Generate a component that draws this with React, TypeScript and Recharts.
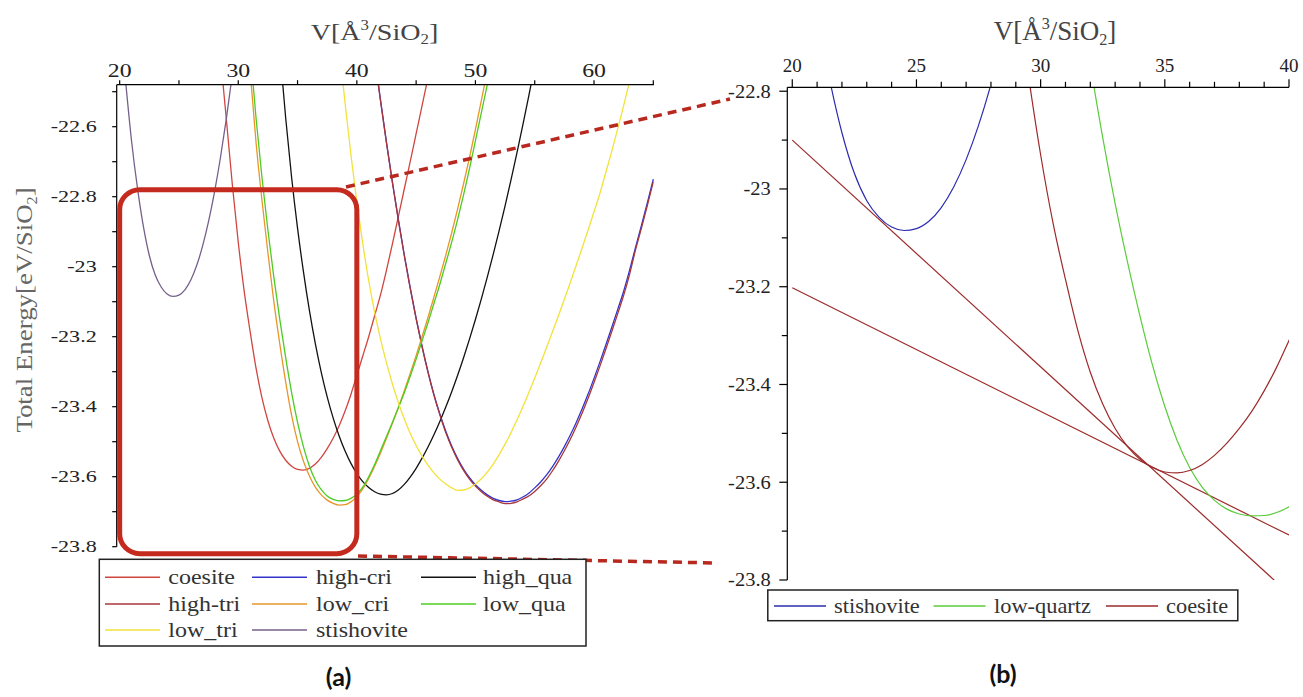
import React from 'react';
import { LineChart, Line, XAxis, YAxis, ReferenceArea } from 'recharts';

// ---------------- Panel (a) data: V [Å^3/SiO2] vs total energy [eV/SiO2] ----------------
const stishoviteV = [20.5, 21, 21.5, 22, 22.5, 23, 23.5, 24, 24.5, 25, 25.5, 26, 26.5, 27, 27.5, 28, 28.5, 29, 29.5];
const stishoviteE = [-22.47, -22.64, -22.775, -22.885, -22.968, -23.024, -23.058, -23.078, -23.085, -23.081, -23.066, -23.038, -22.996, -22.94, -22.87, -22.786, -22.688, -22.576, -22.45];

const coesiteV = [28.5, 29, 29.5, 30, 30.5, 31, 31.5, 32, 32.5, 33, 33.5, 34, 34.5, 35, 35.5, 36, 36.5, 37, 37.5, 38, 38.5, 39, 39.5, 40, 40.5, 41, 41.5, 42, 42.5, 43, 43.5, 44, 44.5, 45, 45.5, 46, 46.5];
const coesiteE = [-22.40, -22.58, -22.765, -22.93, -23.07, -23.185, -23.29, -23.375, -23.44, -23.49, -23.527, -23.553, -23.57, -23.579, -23.581, -23.576, -23.564, -23.545, -23.52, -23.49, -23.455, -23.413, -23.365, -23.31, -23.255, -23.2, -23.14, -23.08, -23.01, -22.935, -22.857, -22.778, -22.70, -22.62, -22.54, -22.46, -22.38];

const lowQuaV = [31, 31.5, 32, 32.5, 33, 33.5, 34, 34.5, 35, 35.5, 36, 36.5, 37, 37.5, 38, 38.5, 39, 39.5, 40, 40.5, 41, 41.5, 42, 42.5, 43, 43.5, 44, 44.5, 45, 45.5, 46, 46.5, 47, 47.5, 48, 48.5, 49, 49.5, 50, 50.5, 51, 51.5];
const lowQuaE = [-22.38, -22.575, -22.745, -22.895, -23.03, -23.15, -23.26, -23.36, -23.445, -23.515, -23.57, -23.61, -23.637, -23.655, -23.665, -23.669, -23.668, -23.662, -23.65, -23.63, -23.60, -23.565, -23.525, -23.485, -23.445, -23.403, -23.36, -23.313, -23.264, -23.212, -23.16, -23.105, -23.05, -22.99, -22.93, -22.865, -22.795, -22.72, -22.64, -22.56, -22.48, -22.40];

const lowCriV = [31, 31.5, 32, 32.5, 33, 33.5, 34, 34.5, 35, 35.5, 36, 36.5, 37, 37.5, 38, 38.5, 39, 39.5, 40, 40.5, 41, 41.5, 42, 42.5, 43, 43.5, 44, 44.5, 45, 45.5, 46, 46.5, 47, 47.5, 48, 48.5, 49, 49.5, 50, 50.5, 51];
const lowCriE = [-22.44, -22.645, -22.81, -22.96, -23.10, -23.22, -23.33, -23.425, -23.5, -23.556, -23.598, -23.63, -23.652, -23.667, -23.676, -23.681, -23.68, -23.672, -23.657, -23.635, -23.605, -23.57, -23.532, -23.49, -23.447, -23.402, -23.355, -23.305, -23.254, -23.20, -23.145, -23.087, -23.028, -22.967, -22.903, -22.835, -22.763, -22.688, -22.608, -22.525, -22.44];

const highQuaV = [33.5, 34, 34.5, 35, 35.5, 36, 36.5, 37, 37.5, 38, 38.5, 39, 39.5, 40, 40.5, 41, 41.5, 42, 42.5, 43, 43.5, 44, 44.5, 45, 45.5, 46, 46.5, 47, 47.5, 48, 48.5, 49, 49.5, 50, 50.5, 51, 51.5, 52, 52.5, 53, 53.5, 54, 54.5, 55];
const highQuaE = [-22.38, -22.575, -22.745, -22.89, -23.015, -23.125, -23.22, -23.302, -23.372, -23.432, -23.483, -23.526, -23.562, -23.591, -23.614, -23.631, -23.643, -23.65, -23.652, -23.648, -23.638, -23.622, -23.601, -23.576, -23.547, -23.515, -23.48, -23.442, -23.401, -23.357, -23.31, -23.26, -23.207, -23.151, -23.092, -23.03, -22.965, -22.897, -22.826, -22.752, -22.675, -22.595, -22.512, -22.426];

const lowTriV = [38.5, 39, 39.5, 40, 40.5, 41, 41.5, 42, 42.5, 43, 43.5, 44, 44.5, 45, 45.5, 46, 46.5, 47, 47.5, 48, 48.5, 49, 49.5, 50, 50.5, 51, 51.5, 52, 52.5, 53, 53.5, 54, 54.5, 55, 55.5, 56, 56.5, 57, 57.5, 58, 58.5, 59, 59.5, 60, 60.5, 61, 61.5, 62, 62.5, 63, 63.5];
const lowTriE = [-22.37, -22.53, -22.68, -22.815, -22.935, -23.04, -23.13, -23.207, -23.275, -23.335, -23.388, -23.435, -23.476, -23.511, -23.541, -23.567, -23.589, -23.607, -23.621, -23.632, -23.639, -23.638, -23.632, -23.621, -23.606, -23.587, -23.564, -23.537, -23.507, -23.474, -23.438, -23.40, -23.36, -23.318, -23.275, -23.231, -23.186, -23.14, -23.093, -23.045, -22.996, -22.946, -22.895, -22.843, -22.79, -22.73, -22.67, -22.605, -22.54, -22.47, -22.40];

const highCriV = [41.5, 42, 42.5, 43, 43.5, 44, 44.5, 45, 45.5, 46, 46.5, 47, 47.5, 48, 48.5, 49, 49.5, 50, 50.5, 51, 51.5, 52, 52.5, 53, 53.5, 54, 54.5, 55, 55.5, 56, 56.5, 57, 57.5, 58, 58.5, 59, 59.5, 60, 60.5, 61, 61.5, 62, 62.5, 63, 63.5, 64, 64.5, 65];
const highCriE = [-22.40, -22.525, -22.645, -22.758, -22.865, -22.966, -23.06, -23.147, -23.227, -23.30, -23.365, -23.421, -23.47, -23.512, -23.548, -23.578, -23.603, -23.623, -23.639, -23.652, -23.662, -23.668, -23.671, -23.67, -23.666, -23.658, -23.647, -23.632, -23.615, -23.595, -23.571, -23.544, -23.514, -23.481, -23.445, -23.406, -23.364, -23.319, -23.272, -23.223, -23.173, -23.122, -23.07, -23.01, -22.945, -22.882, -22.817, -22.75];

const highTriV = [41.5, 42, 42.5, 43, 43.5, 44, 44.5, 45, 45.5, 46, 46.5, 47, 47.5, 48, 48.5, 49, 49.5, 50, 50.5, 51, 51.5, 52, 52.5, 53, 53.5, 54, 54.5, 55, 55.5, 56, 56.5, 57, 57.5, 58, 58.5, 59, 59.5, 60, 60.5, 61, 61.5, 62, 62.5, 63, 63.5, 64, 64.5, 65];
const highTriE = [-22.402, -22.527, -22.647, -22.76, -22.867, -22.968, -23.062, -23.149, -23.229, -23.302, -23.367, -23.423, -23.474, -23.516, -23.552, -23.582, -23.607, -23.627, -23.643, -23.656, -23.666, -23.672, -23.677, -23.676, -23.672, -23.664, -23.655, -23.642, -23.626, -23.607, -23.583, -23.556, -23.526, -23.493, -23.457, -23.418, -23.376, -23.331, -23.284, -23.235, -23.185, -23.134, -23.082, -23.022, -22.952, -22.89, -22.825, -22.757];

// ---------------- Panel (b): common tangent lines ----------------
const tangentAV = [20, 40];
const tangentAE = [-22.90, -23.828];
const tangentBV = [20, 40];
const tangentBE = [-23.202, -23.708];

// ---------------- Ticks ----------------
const xTicksA = [20, 25, 30, 35, 40, 45, 50, 55, 60, 65];
const xMajorA = [20, 30, 40, 50, 60];
const yTicksA = [-23.8, -23.7, -23.6, -23.5, -23.4, -23.3, -23.2, -23.1, -23, -22.9, -22.8, -22.7, -22.6, -22.5];
const yMajorA = [-23.8, -23.6, -23.4, -23.2, -23, -22.8, -22.6];
const xTicksB = [20, 21, 22, 23, 24, 25, 26, 27, 28, 29, 30, 31, 32, 33, 34, 35, 36, 37, 38, 39, 40];
const xMajorB = [20, 25, 30, 35, 40];
const yTicksB = [-23.8, -23.7, -23.6, -23.5, -23.4, -23.3, -23.2, -23.1, -23, -22.9, -22.8];
const yMajorB = [-23.8, -23.6, -23.4, -23.2, -23, -22.8];

const zip = (vs: number[], es: number[]) => vs.map((v, i) => ({ v, e: es[i] }));

const namesA = ['coesite', 'high-cri', 'high_qua', 'high-tri', 'low_cri', 'low_qua', 'low_tri', 'stishovite'];
const colorsA = ['#d0453f', '#3434cc', '#111111', '#a8363a', '#e8952a', '#4ccc22', '#f2e23a', '#76608a'];
const dataA = [
  zip(coesiteV, coesiteE),
  zip(highCriV, highCriE),
  zip(highQuaV, highQuaE),
  zip(highTriV, highTriE),
  zip(lowCriV, lowCriE),
  zip(lowQuaV, lowQuaE),
  zip(lowTriV, lowTriE),
  zip(stishoviteV, stishoviteE),
];

const namesB = ['stishovite', 'low-quartz', 'coesite'];
const colorsB = ['#2c2cb0', '#5acc3a', '#9c2a2a'];
const dataB = [zip(stishoviteV, stishoviteE), zip(lowQuaV, lowQuaE), zip(coesiteV, coesiteE)];
const tangentData = [zip(tangentAV, tangentAE), zip(tangentBV, tangentBE)];

const serifName = 'Liberation Serif';
const serif = '"Liberation Serif", "Times New Roman", Times, serif';
const axisStroke = { stroke: '#000', strokeWidth: 1.2 };

type TickOpt = { len: number; minorLen: number; gap: number; size: number; sx: number; fill: string };

function makeTick(orient: 'top' | 'left', majors: number[], o: TickOpt) {
  return (props: any) => {
    const { x, y, payload } = props;
    const v = Number(payload.value);
    const major = majors.some((m) => Math.abs(m - v) < 1e-6);
    const L = major ? o.len : o.minorLen;
    const label = String(Math.round(v * 10) / 10);
    const tx = orient === 'top' ? x : x - o.gap;
    const ty = orient === 'top' ? y - o.gap : y + o.size * 0.34;
    return (
      <g>
        {orient === 'top' ? (
          <line x1={x} x2={x} y1={y} y2={y - L} stroke="#000" strokeWidth={1.2} />
        ) : (
          <line x1={x} x2={x - L} y1={y} y2={y} stroke="#000" strokeWidth={1.2} />
        )}
        {major && (
          <g transform={`translate(${tx},${ty}) scale(${o.sx},1)`}>
            <text
              x={0}
              y={0}
              textAnchor={orient === 'top' ? 'middle' : 'end'}
              fontFamily={serifName}
              fontSize={o.size}
              fill={o.fill}
              style={{ fontFamily: serif }}
            >
              {label}
            </text>
          </g>
        )}
      </g>
    );
  };
}

const tickAx = makeTick('top', xMajorA, { len: 4.5, minorLen: 4.5, gap: 8, size: 19, sx: 1.25, fill: '#222' });
const tickAy = makeTick('left', yMajorA, { len: 4.5, minorLen: 4.5, gap: 20, size: 17, sx: 1.3, fill: '#222' });
const tickBx = makeTick('top', xMajorB, { len: 8, minorLen: 5.5, gap: 15.5, size: 19, sx: 1.0, fill: '#222' });
const tickBy = makeTick('left', yMajorB, { len: 8, minorLen: 5.5, gap: 16.5, size: 19, sx: 1.08, fill: '#222' });

const renderBox = (p: any) => (
  <rect x={p.x} y={p.y} width={p.width} height={p.height} rx={20} ry={20} fill="none" stroke="#c42a1e" strokeWidth={5} />
);

function VolTitle({ x, y, size, sx }: { x: number; y: number; size: number; sx: number }) {
  return (
    <text transform={`translate(${x},${y}) scale(${sx},1)`} textAnchor="middle" style={{ fontFamily: serif, fontSize: size, fill: '#444' }}>
      V[Å
      <tspan fontSize={size * 0.6} dy={-size * 0.4}>3</tspan>
      <tspan dy={size * 0.4}>/SiO</tspan>
      <tspan fontSize={size * 0.6} dy={size * 0.2}>2</tspan>
      <tspan dy={-size * 0.2}>]</tspan>
    </text>
  );
}

export default function App() {
  const legendRowsA = [577.3, 604, 630];
  const legendColLineA = [105, 252, 421];
  const legendColTextA = [168.3, 316, 483];
  const legendLineB = [774, 933.5, 1106];
  const legendTextB = [834, 994, 1166];
  const capFont = "Lato, 'Open Sans', 'DejaVu Sans', sans-serif";

  return (
    <div style={{ position: 'absolute', left: 0, top: 0, width: 1303, height: 697, background: '#fff', overflow: 'hidden' }}>
      <div style={{ position: 'absolute', left: 0, top: 0 }}>
        <LineChart width={700} height={697} margin={{ top: 54.7, left: 56.7, right: 46.1, bottom: 150.3 }}>
          <XAxis
            type="number"
            dataKey="v"
            orientation="top"
            domain={[19.75, 65.05]}
            ticks={xTicksA}
            allowDataOverflow
            height={30}
            axisLine={axisStroke}
            tickLine={false}
            tickSize={0}
            tickMargin={0}
            interval={0}
            tick={tickAx}
          />
          <YAxis
            type="number"
            domain={[-23.8, -22.48]}
            ticks={yTicksA}
            allowDataOverflow
            width={60}
            axisLine={axisStroke}
            tickLine={false}
            tickSize={0}
            tickMargin={0}
            interval={0}
            tick={tickAy}
          />
          {namesA.map((n, i) => (
            <Line
              key={n}
              data={dataA[i]}
              dataKey="e"
              name={n}
              stroke={colorsA[i]}
              strokeWidth={1.3}
              dot={false}
              type="monotone"
              isAnimationActive={false}
            />
          ))}
          <ReferenceArea x1={20} x2={40} y1={-23.82} y2={-22.78} ifOverflow="visible" shape={renderBox} zIndex={2000} />
        </LineChart>
      </div>

      <div style={{ position: 'absolute', left: 700, top: 0 }}>
        <LineChart width={603} height={697} margin={{ top: 57.3, left: 27.3, right: 14, bottom: 117 }}>
          <XAxis
            type="number"
            dataKey="v"
            orientation="top"
            domain={[19.8, 40]}
            ticks={xTicksB}
            allowDataOverflow
            height={30}
            axisLine={axisStroke}
            tickLine={false}
            tickSize={0}
            tickMargin={0}
            interval={0}
            tick={tickBx}
          />
          <YAxis
            type="number"
            domain={[-23.8, -22.792]}
            ticks={yTicksB}
            allowDataOverflow
            width={60}
            axisLine={axisStroke}
            tickLine={false}
            tickSize={0}
            tickMargin={0}
            interval={0}
            tick={tickBy}
          />
          {tangentData.map((d, i) => (
            <Line key={'t' + i} data={d} dataKey="e" stroke={colorsB[2]} strokeWidth={1.2} dot={false} type="linear" isAnimationActive={false} />
          ))}
          {namesB.map((n, i) => (
            <Line
              key={n}
              data={dataB[i]}
              dataKey="e"
              name={n}
              stroke={colorsB[i]}
              strokeWidth={1.2}
              dot={false}
              type="monotone"
              isAnimationActive={false}
            />
          ))}
        </LineChart>
      </div>

      <svg style={{ position: 'absolute', left: 0, top: 0, pointerEvents: 'none' }} width={1303} height={697}>
        <VolTitle x={374.5} y={39.5} size={24} sx={1.17} />
        <VolTitle x={1055} y={39.5} size={27} sx={1.0} />
        <text transform="translate(32,310) rotate(-90) scale(1.12,1)" textAnchor="middle" style={{ fontFamily: serif, fontSize: 24, fill: '#666' }}>
          Total Energy[eV/SiO
          <tspan fontSize={14.4} dy={5}>2</tspan>
          <tspan dy={-5}>]</tspan>
        </text>

        <line x1={346} y1={187} x2={730} y2={99} stroke="#b8281e" strokeWidth={3.5} strokeDasharray="9 6" />
        <line x1={358} y1={556} x2={718} y2={563} stroke="#b8281e" strokeWidth={3.5} strokeDasharray="9 6" />

        <rect x={99.3} y={559.3} width={486.7} height={86.7} fill="#fff" stroke="#222" strokeWidth={1.5} />
        {namesA.map((n, i) => {
          const r = Math.floor(i / 3);
          const c = i % 3;
          const cy = legendRowsA[r];
          return (
            <g key={n}>
              <line x1={legendColLineA[c]} x2={legendColLineA[c] + 55} y1={cy} y2={cy} stroke={colorsA[i]} strokeWidth={1.5} />
              <text transform={`translate(${legendColTextA[c]},${cy + 6.5}) scale(1.2,1)`} style={{ fontFamily: serif, fontSize: 20, fill: '#333' }}>
                {n}
              </text>
            </g>
          );
        })}

        <rect x={767.8} y={590} width={470} height={30.7} fill="#fff" stroke="#222" strokeWidth={1.5} />
        {namesB.map((n, i) => (
          <g key={n}>
            <line x1={legendLineB[i]} x2={legendLineB[i] + 52} y1={606} y2={606} stroke={colorsB[i]} strokeWidth={1.5} />
            <text transform={`translate(${legendTextB[i]},${612.5}) scale(1.12,1)`} style={{ fontFamily: serif, fontSize: 20, fill: '#333' }}>
              {n}
            </text>
          </g>
        ))}

        <text x={338.5} y={686} textAnchor="middle" style={{ fontFamily: capFont, fontWeight: 700, fontSize: 25, fill: '#111' }}>
          (a)
        </text>
        <text x={1003} y={683} textAnchor="middle" style={{ fontFamily: capFont, fontWeight: 700, fontSize: 25, fill: '#111' }}>
          (b)
        </text>
      </svg>
    </div>
  );
}
